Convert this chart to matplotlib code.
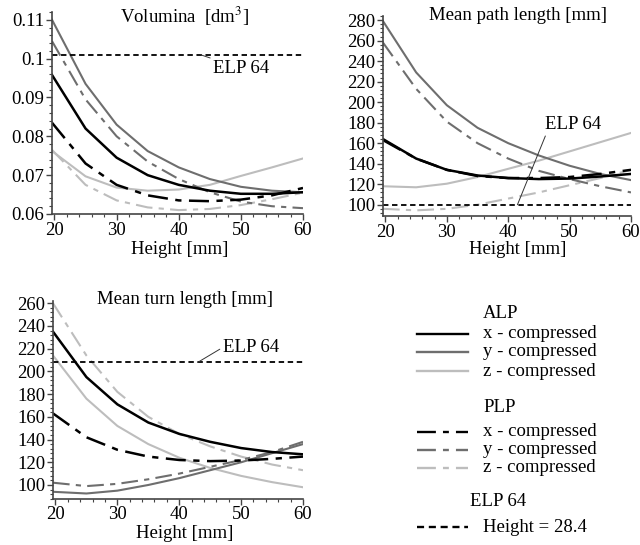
import matplotlib
matplotlib.use("Agg")
import matplotlib.pyplot as plt
from matplotlib.ticker import AutoMinorLocator, MultipleLocator
from matplotlib.lines import Line2D

plt.rcParams['font.family'] = ['Liberation Serif', 'DejaVu Serif']
plt.rcParams['mathtext.fontset'] = 'stix'

# heights (x axis)
height = [19.6, 25, 30, 35, 40, 45, 50, 55, 60]

# Volumina [dm3]
vol_alp_x = [0.0958, 0.0820, 0.0745, 0.0700, 0.0675, 0.0660, 0.0652, 0.0652, 0.0656]
vol_alp_y = [0.1100, 0.0935, 0.0830, 0.0762, 0.0720, 0.0690, 0.0670, 0.0660, 0.0656]
vol_alp_z = [0.0762, 0.0697, 0.0668, 0.0660, 0.0663, 0.0675, 0.0698, 0.0720, 0.0743]
vol_plp_x = [0.0835, 0.0730, 0.0675, 0.0648, 0.0635, 0.0633, 0.0637, 0.0648, 0.0667]
vol_plp_y = [0.1045, 0.0895, 0.0800, 0.0735, 0.0690, 0.0656, 0.0632, 0.0620, 0.0615]
vol_plp_z = [0.0765, 0.0675, 0.0635, 0.0617, 0.0610, 0.0613, 0.0623, 0.0638, 0.0655]
vol_elp = 0.101

# Mean path length [mm]
path_alp_x = [164, 145, 134, 128.5, 126, 125, 125.5, 127.5, 130]
path_alp_y = [279, 229, 197, 175, 160, 148, 138, 130, 124]
path_alp_z = [118, 117, 120.5, 127, 135, 143, 152, 161, 170]
path_plp_x = [163, 145, 134, 128, 126, 126, 127, 130, 134]
path_plp_y = [258, 213, 181, 160, 145, 133, 125, 118, 112]
path_plp_z = [96, 94.5, 96, 100, 106, 112, 119, 126, 134]
path_elp = 100

# Mean turn length [mm]
turn_alp_x = [235, 195, 171, 155, 145, 138, 132.5, 129, 127]
turn_alp_y = [94, 92.5, 95, 100, 106, 113, 120, 128, 136]
turn_alp_z = [214, 176, 152, 136, 124, 115, 108, 102.5, 98]
turn_plp_x = [163, 142, 131, 125, 122, 121, 121.5, 123, 125]
turn_plp_y = [102, 99, 101, 105, 110, 116, 122, 129, 138]
turn_plp_z = [260, 214, 182, 160, 145, 134, 125, 118, 113]
turn_elp = 208

c_x = '#000000'
c_y = '#6e6e6e'
c_z = '#bdbdbd'
dashdot = (0, (8, 3, 2.5, 3))
elp_dash = (0, (3, 2))
lw = 1.5

W, H = 640, 545
fig = plt.figure(figsize=(6.4, 5.45), dpi=100)


def px_axes(left, right, top, bottom):
    return fig.add_axes([left / W, 1 - bottom / H, (right - left) / W, (bottom - top) / H])


def style(ax, ylim, ymajor):
    ax.set_xlim(19.6, 60)
    ax.set_ylim(*ylim)
    ax.xaxis.set_major_locator(MultipleLocator(10))
    ax.yaxis.set_major_locator(MultipleLocator(ymajor))
    ax.xaxis.set_minor_locator(AutoMinorLocator(5))
    ax.yaxis.set_minor_locator(AutoMinorLocator(5))
    for s in ['top', 'right']:
        ax.spines[s].set_visible(False)
    for s in ['left', 'bottom']:
        ax.spines[s].set_color('#444444')
        ax.spines[s].set_linewidth(1.2)
    ax.tick_params(which='major', direction='out', length=4, width=1, color='#444444',
                   labelsize=13.5, pad=1.5)
    ax.tick_params(which='minor', direction='out', length=2.5, width=0.8, color='#444444')
    ax.patch.set_alpha(0)


def draw(ax, ax_, ay_, az_, px_, py_, pz_, elp):
    ax.plot(height, az_, color=c_z, lw=lw)
    ax.plot(height, pz_, color=c_z, lw=lw, linestyle=dashdot)
    ax.plot(height, ay_, color=c_y, lw=lw)
    ax.plot(height, py_, color=c_y, lw=lw, linestyle=dashdot)
    ax.plot(height, ax_, color=c_x, lw=lw + 0.3)
    ax.plot(height, px_, color=c_x, lw=lw + 0.3, linestyle=dashdot)
    ax.axhline(elp, color='black', lw=1.3, linestyle=elp_dash)


# Volumina
ax1 = px_axes(52, 303, 12, 214)
draw(ax1, vol_alp_x, vol_alp_y, vol_alp_z, vol_plp_x, vol_plp_y, vol_plp_z, vol_elp)
style(ax1, (0.06, 0.112), 0.01)
ax1.set_yticks([0.06, 0.07, 0.08, 0.09, 0.1, 0.11])
ax1.set_yticklabels(['0.06', '0.07', '0.08', '0.09', '0.1', '0.11'])
ax1.annotate('ELP 64', xy=(43.5, vol_elp), xytext=(45.5, 0.0975), fontsize=13.5,
             va='center', ha='left',
             arrowprops=dict(arrowstyle='-', color='#333333', lw=0.7, shrinkA=0, shrinkB=0))

# Mean path length
ax2 = px_axes(383, 631, 16, 216)
draw(ax2, path_alp_x, path_alp_y, path_alp_z, path_plp_x, path_plp_y, path_plp_z, path_elp)
style(ax2, (89, 284), 20)
ax2.annotate('ELP 64', xy=(41.5, path_elp), xytext=(46, 178), fontsize=13.5,
             va='center', ha='left',
             arrowprops=dict(arrowstyle='-', color='#333333', lw=0.7, shrinkA=0, shrinkB=0,
                             relpos=(0.05, 0.2)))

# Mean turn length
ax3 = px_axes(53, 303, 301, 498.6)
draw(ax3, turn_alp_x, turn_alp_y, turn_alp_z, turn_plp_x, turn_plp_y, turn_plp_z, turn_elp)
style(ax3, (88, 262), 20)
ax3.annotate('ELP 64', xy=(43, turn_elp), xytext=(47, 221), fontsize=13.5,
             va='center', ha='left',
             arrowprops=dict(arrowstyle='-', color='#333333', lw=0.7, shrinkA=0, shrinkB=0,
                             relpos=(0, 0.5)))


def ftext(x, y, s, **kw):
    fig.text(x / W, 1 - y / H, s, va='center', fontsize=13.5, **kw)


ftext(185, 16, 'Volumina  [dm$^3$]', ha='center')
ftext(518, 16, 'Mean path length [mm]', ha='center')
ftext(185, 299, 'Mean turn length [mm]', ha='center')
ftext(180, 250, 'Height [mm]', ha='center')
ftext(518, 250, 'Height [mm]', ha='center')
ftext(185, 534, 'Height [mm]', ha='center')

# legend
leg = fig.add_axes([0, 0, 1, 1])
leg.set_xlim(0, W)
leg.set_ylim(H, 0)
leg.axis('off')
leg_rows = [
    ('ALP', None, None, 313, 483),
    ('x - compressed', c_x, '-', 334, 483),
    ('y - compressed', c_y, '-', 352, 483),
    ('z - compressed', c_z, '-', 371, 483),
    ('PLP', None, None, 407, 483),
    ('x - compressed', c_x, dashdot, 432, 483),
    ('y - compressed', c_y, dashdot, 450, 483),
    ('z - compressed', c_z, dashdot, 468, 483),
    ('ELP 64', None, None, 502, 470),
    ('Height = 28.4', 'black', elp_dash, 527, 483),
]
for label, col, ls, yy, tx in leg_rows:
    if col is not None:
        leg.add_line(Line2D([417, 468], [yy, yy], color=col, lw=lw + 0.2, linestyle=ls))
    leg.text(tx, yy, label, fontsize=13.5, va='center', ha='left')

fig.savefig('out.png', dpi=100)
